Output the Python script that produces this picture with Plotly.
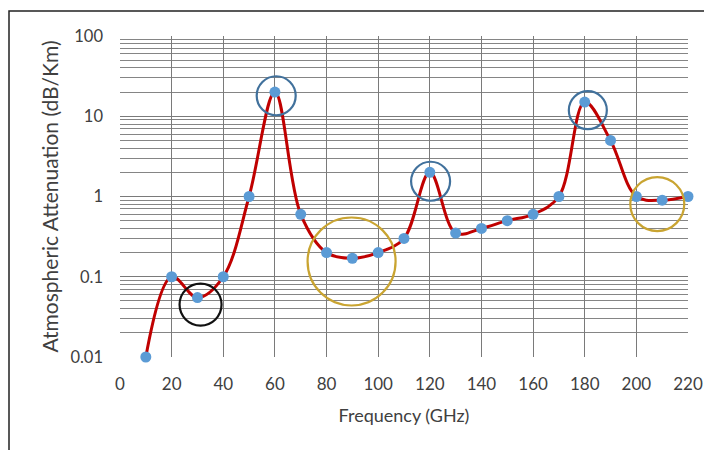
import plotly.graph_objects as go

freq = [10, 20, 30, 40, 50, 60, 70, 80, 90, 100, 110, 120, 130, 140, 150, 160, 170, 180, 190, 200, 210, 220]
atten = [0.01, 0.1, 0.055, 0.1, 1.0, 20, 0.6, 0.2, 0.17, 0.2, 0.3, 2.0, 0.35, 0.4, 0.5, 0.6, 1.0, 15, 5.0, 1.0, 0.9, 1.0]

y_tick_vals = [0.01, 0.1, 1, 10, 100]
y_tick_text = ["0.01", "0.1", "1", "10", "100"]
x_tick_vals = [0, 20, 40, 60, 80, 100, 120, 140, 160, 180, 200, 220]

# highlight circles: centre x, centre y, diameter (px), colour
circle_x = [60.5, 120.3, 181.2, 31.2, 89.7, 208.1]
circle_y = [18, 1.55, 11.9, 0.045, 0.155, 0.805]
circle_d = [39, 39, 38, 42, 88, 54]
circle_c = ["#41719C", "#41719C", "#41719C", "#111111", "#C9A431", "#C9A431"]

font = "Lato, 'Open Sans', sans-serif"
W, H = 704, 442  # page body has an 8px margin inside the 712x450 window
L, R, T, B = 112, 24, 28, 93
fig = go.Figure()

fig.add_trace(go.Scatter(
    x=freq, y=atten, mode="lines+markers",
    line=dict(color="#C00000", width=3, shape="spline", smoothing=1),
    marker=dict(color="#5B9BD5", size=11),
    cliponaxis=False, showlegend=False, hoverinfo="x+y",
))

for cx, cy, cd, cc in zip(circle_x, circle_y, circle_d, circle_c):
    fig.add_trace(go.Scatter(
        x=[cx], y=[cy], mode="markers",
        marker=dict(symbol="circle-open", size=cd, color=cc, line=dict(width=2.2, color=cc)),
        cliponaxis=False, showlegend=False, hoverinfo="skip",
    ))

pw, ph = W - L - R, H - T - B
fig.update_layout(
    width=W, height=H,
    margin=dict(l=L, r=R, t=T, b=B),
    paper_bgcolor="white", plot_bgcolor="white",
    font=dict(family=font, size=14, color="#404040"),
    xaxis=dict(
        range=[0, 220], tickvals=x_tick_vals, automargin=False,
        showgrid=True, gridcolor="#7a7a7a", gridwidth=1.4,
        zeroline=False, showline=False, ticks="", ticklabelstandoff=15,
        tickfont=dict(size=17, color="#404040"),
        title=dict(text="Frequency (GHz)", font=dict(size=18, color="#404040"), standoff=16),
    ),
    yaxis=dict(
        type="log", range=[-2, 2], tickvals=y_tick_vals, ticktext=y_tick_text, automargin=False,
        showgrid=True, gridcolor="#7a7a7a", gridwidth=1.4,
        minor=dict(showgrid=True, gridcolor="#858585", gridwidth=1, dtick="D1", ticks=""),
        zeroline=False, showline=False, ticks="", ticklabelstandoff=16,
        tickfont=dict(size=16.5, color="#404040"),
        title=dict(text="Atmospheric Attenuation (dB/Km)", font=dict(size=21, color="#404040"), standoff=6),
    ),
    shapes=[dict(
        type="rect", xref="paper", yref="paper",
        x0=(1 - L) / pw, x1=(W + 10 - L) / pw,
        y0=-(B + 10) / ph, y1=(ph + T - 3) / ph,
        line=dict(color="#222222", width=1.5), fillcolor="rgba(0,0,0,0)", layer="below",
    )],
)

fig.write_html("out.html")
